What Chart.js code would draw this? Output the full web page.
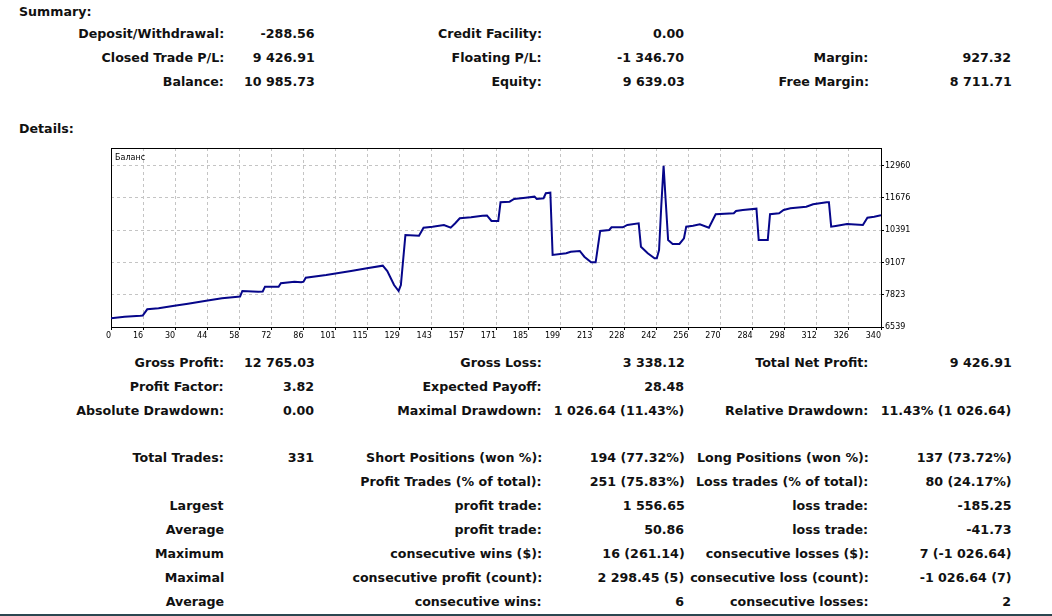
<!DOCTYPE html>
<html>
<head>
<meta charset="utf-8">
<script src="https://cdn.jsdelivr.net/npm/chart.js@4/dist/chart.umd.min.js"></script>
<style>
  html, body { margin:0; padding:0; background:#fff; }
  body { width:1052px; height:616px; position:relative; overflow:hidden; font-family:"DejaVu Sans", sans-serif; }
  .t { position:absolute; font-weight:bold; font-size:13px; line-height:16px; color:#111; white-space:pre; }
  .r { transform-origin: right center; }
  .l { transform-origin: left center; }
  #wrap { position:absolute; left:100px; top:140px; width:830px; height:210px; }
  #bar { position:absolute; left:0; top:614px; width:1052px; height:2px; background:#2b4650; }
</style>
</head>
<body>
<div id="wrap"><canvas id="c" width="830" height="210"></canvas></div>
<div id="bar"></div>
<script>
// ---- chart data ----
const tradeIndex = [0,6,13,14,16,21,28,34,42,49,56,57,58,65,67,68,74,75,81,84,85,86,95,106,113,120,122,125,127,128,130,136,138,142,147,150,152,154,159,164,166,168,171,172,176,178,183,187,188,191,192,194,195,201,203,207,209,212,214,216,220,221,226,228,233,234,237,240,241,242,243,244,245,246,248,251,253,254,257,260,264,267,275,276,279,285,286,290,291,295,297,300,307,310,316,317,318,320,325,332,334,337,340];
const balance    = [6885,6949,6989,6997,7244,7284,7387,7467,7586,7682,7746,7754,7973,7945,7953,8144,8144,8279,8343,8319,8343,8502,8610,8769,8876,8980,8769,8211,7973,8211,10202,10175,10493,10533,10601,10493,10668,10867,10907,10971,10980,10760,10760,11505,11528,11636,11688,11728,11636,11664,11863,11887,9406,9474,9537,9565,9338,9115,9115,10362,10402,10509,10509,10601,10668,9737,9474,9275,9275,9605,11397,12960,11465,10003,9844,9844,10071,10533,10573,10628,10493,11027,11067,11158,11198,11250,10003,10003,11027,11067,11198,11266,11329,11425,11505,11505,10533,10561,10640,10601,10891,10931,10986];
const xTickLabels = ['0','16','30','44','58','72','86','101','115','129','143','157','171','185','199','213','228','242','256','270','284','298','312','326','340'];
const yTickValues = [6539,7823,9107,10391,11676,12960];
const seriesName = 'Баланс';
const X_MAX = 340, Y_MIN = 6539, Y_MAX = 13665;

// ---- report texts ----
const texts = [
  ['Summary:', 19, 11.5, 'l'],
  ['Deposit/Withdrawal:', 224, 34, 'r'], ['-288.56', 314.5, 34, 'r'],
  ['Closed Trade P/L:', 224, 58, 'r'], ['9 426.91', 314.5, 58, 'r'],
  ['Balance:', 224, 82, 'r'], ['10 985.73', 314.5, 82, 'r'],
  ['Credit Facility:', 542, 34, 'r'], ['0.00', 684.5, 34, 'r'],
  ['Floating P/L:', 542, 58, 'r'], ['-1 346.70', 684.5, 58, 'r'],
  ['Equity:', 542, 82, 'r'], ['9 639.03', 684.5, 82, 'r'],
  ['Margin:', 868.5, 58, 'r'], ['927.32', 1011.5, 58, 'r'],
  ['Free Margin:', 868.5, 82, 'r'], ['8 711.71', 1011.5, 82, 'r'],
  ['Details:', 19, 129, 'l'],
  ['Gross Profit:', 224, 363, 'r'], ['12 765.03', 314.5, 363, 'r'],
  ['Profit Factor:', 224, 387, 'r'], ['3.82', 314.5, 387, 'r'],
  ['Absolute Drawdown:', 224, 411, 'r'], ['0.00', 314.5, 411, 'r'],
  ['Gross Loss:', 542, 363, 'r'], ['3 338.12', 684.5, 363, 'r'],
  ['Expected Payoff:', 542, 387, 'r'], ['28.48', 684.5, 387, 'r'],
  ['Maximal Drawdown:', 542, 411, 'r'], ['1 026.64 (11.43%)', 684.5, 411, 'r'],
  ['Total Net Profit:', 868.5, 363, 'r'], ['9 426.91', 1011.5, 363, 'r'],
  ['Relative Drawdown:', 868.5, 411, 'r'], ['11.43% (1 026.64)', 1011.5, 411, 'r'],
  ['Total Trades:', 224, 458, 'r'], ['331', 314.5, 458, 'r'],
  ['Largest', 224, 506, 'r'], ['Average', 224, 530, 'r'], ['Maximum', 224, 554, 'r'],
  ['Maximal', 224, 578, 'r'], ['Average', 224, 602, 'r'],
  ['Short Positions (won %):', 542, 458, 'r'], ['194 (77.32%)', 684.5, 458, 'r'],
  ['Profit Trades (% of total):', 542, 482, 'r'], ['251 (75.83%)', 684.5, 482, 'r'],
  ['profit trade:', 542, 506, 'r'], ['1 556.65', 684.5, 506, 'r'],
  ['profit trade:', 542, 530, 'r'], ['50.86', 684.5, 530, 'r'],
  ['consecutive wins ($):', 542, 554, 'r'], ['16 (261.14)', 684.5, 554, 'r'],
  ['consecutive profit (count):', 542, 578, 'r'], ['2 298.45 (5)', 684.5, 578, 'r'],
  ['consecutive wins:', 542, 602, 'r'], ['6', 684.5, 602, 'r'],
  ['Long Positions (won %):', 868.5, 458, 'r'], ['137 (73.72%)', 1011.5, 458, 'r'],
  ['Loss trades (% of total):', 868.5, 482, 'r'], ['80 (24.17%)', 1011.5, 482, 'r'],
  ['loss trade:', 868.5, 506, 'r'], ['-185.25', 1011.5, 506, 'r'],
  ['loss trade:', 868.5, 530, 'r'], ['-41.73', 1011.5, 530, 'r'],
  ['consecutive losses ($):', 868.5, 554, 'r'], ['7 (-1 026.64)', 1011.5, 554, 'r'],
  ['consecutive loss (count):', 868.5, 578, 'r'], ['-1 026.64 (7)', 1011.5, 578, 'r'],
  ['consecutive losses:', 868.5, 602, 'r'], ['2', 1011.5, 602, 'r']
];

// scale text horizontally to mimic the narrower reference face
const mctx = document.createElement('canvas').getContext('2d');
mctx.font = 'bold 13px "DejaVu Sans"';
const sx = 146 / mctx.measureText('Deposit/Withdrawal:').width;
texts.forEach(([s, x, cy, a]) => {
  const d = document.createElement('div');
  d.className = 't ' + a;
  d.textContent = s;
  d.style.top = (cy - 8) + 'px';
  if (a === 'r') d.style.right = (1052 - x) + 'px'; else d.style.left = x + 'px';
  d.style.transform = 'scaleX(' + sx.toFixed(4) + ')';
  document.body.appendChild(d);
});

// ---- chart ----
const frame = {
  id: 'frame',
  beforeDatasetsDraw(chart) {
    const {ctx, chartArea: a} = chart;
    ctx.save();
    ctx.strokeStyle = '#000';
    ctx.lineWidth = 1;
    ctx.strokeRect(Math.round(a.left) + 0.5, Math.round(a.top) + 0.5, Math.round(a.right - a.left), Math.round(a.bottom - a.top));
    ctx.restore();
  },
  afterDraw(chart) {
    const {ctx, chartArea: a} = chart;
    ctx.save();
    ctx.font = '8px "DejaVu Sans"';
    ctx.fillStyle = '#000';
    ctx.textBaseline = 'middle';
    ctx.fillText(seriesName, a.left + 4, a.top + 10);
    ctx.restore();
  }
};

const tickFont = { family: '"DejaVu Sans"', size: 8 };
new Chart(document.getElementById('c'), {
  type: 'line',
  data: {
    datasets: [{
      label: seriesName,
      data: tradeIndex.map((x, i) => ({ x, y: balance[i] })),
      borderColor: '#06068a',
      borderWidth: 2,
      pointRadius: 0,
      tension: 0,
      fill: false
    }]
  },
  options: {
    responsive: false,
    animation: false,
    devicePixelRatio: 1,
    layout: { padding: { left: 11, top: 8, right: 0, bottom: 0 } },
    plugins: { legend: { display: false }, tooltip: { enabled: false } },
    scales: {
      x: {
        type: 'linear', position: 'bottom', min: 0, max: X_MAX,
        afterBuildTicks: s => { s.ticks = xTickLabels.map((l, k) => ({ value: k * X_MAX / 24 })); },
        afterFit: s => { s.height = 23; },
        ticks: { autoSkip: false, maxRotation: 0, minRotation: 0, align: 'end', padding: 1, font: tickFont, color: '#000',
                 callback: (v, i) => xTickLabels[i] },
        grid: { color: '#c4c4c4', lineWidth: 1, tickColor: '#000', tickLength: 3, drawTicks: true },
        border: { display: true, color: '#000', width: 1, dash: [3, 3] }
      },
      y: {
        type: 'linear', position: 'right', min: Y_MIN, max: Y_MAX,
        afterBuildTicks: s => { s.ticks = yTickValues.map(v => ({ value: v })); },
        afterFit: s => { s.width = 49; },
        ticks: { padding: 1, font: tickFont, color: '#000', callback: v => String(v) },
        grid: { color: '#c4c4c4', lineWidth: 1, tickColor: '#000', tickLength: 3, drawTicks: true },
        border: { display: true, color: '#000', width: 1, dash: [3, 3] }
      }
    }
  },
  plugins: [frame]
});
</script>
</body>
</html>
